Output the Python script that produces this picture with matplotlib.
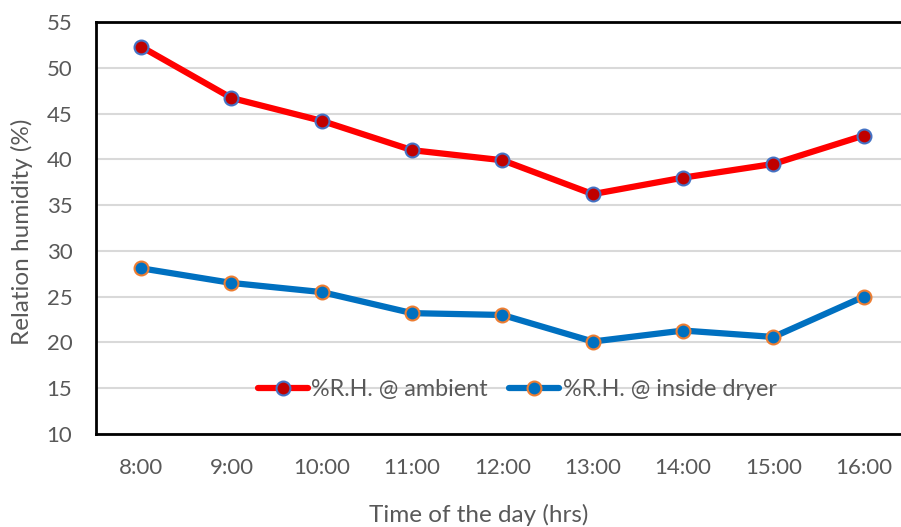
import matplotlib
matplotlib.use("Agg")
import matplotlib.pyplot as plt

hours = ["8:00", "9:00", "10:00", "11:00", "12:00", "13:00", "14:00", "15:00", "16:00"]
rh_ambient = [52.3, 46.7, 44.2, 41.0, 39.9, 36.2, 38.0, 39.5, 42.6]
rh_dryer = [28.1, 26.5, 25.5, 23.2, 23.0, 20.1, 21.3, 20.6, 25.0]

plt.rcParams['font.family'] = ['Lato', 'DejaVu Sans']
txt = '#595959'

fig = plt.figure(figsize=(9.01, 5.27), dpi=100)
# plot area runs slightly past the right edge, as in the original
ax = fig.add_axes([96 / 901, (527 - 434) / 527, 813 / 901, (434 - 22) / 527])

x = range(len(hours))
ax.plot(x, rh_ambient, color='#FF0000', lw=4.5, marker='o', ms=10,
        mfc='#C00000', mec='#4472C4', mew=1.5, label='%R.H. @ ambient',
        solid_capstyle='round', zorder=3)
ax.plot(x, rh_dryer, color='#0070C0', lw=4.5, marker='o', ms=10,
        mfc='#0070C0', mec='#ED7D31', mew=1.5, label='%R.H. @ inside dryer',
        solid_capstyle='round', zorder=3)

ax.set_xlim(-0.5, len(hours) - 0.5)
ax.set_ylim(10, 55)
ax.set_yticks(range(10, 56, 5))
ax.set_xticks(list(x))
ax.set_xticklabels(hours)
ax.grid(axis='y', color='#D9D9D9', lw=1.5, zorder=0)
ax.set_axisbelow(True)

for s in ['left', 'bottom', 'top']:
    ax.spines[s].set_color('black')
    ax.spines[s].set_linewidth(2)
ax.spines['right'].set_visible(False)

ax.tick_params(length=0, labelsize=16, labelcolor=txt)
ax.tick_params(axis='x', pad=17)
ax.tick_params(axis='y', pad=17)

ax.set_xlabel('Time of the day (hrs)', fontsize=17.5, color=txt)
ax.set_ylabel('Relation humidity (%)', fontsize=17.5, color=txt)
ax.xaxis.set_label_coords((479 - 96) / 813, -(515 - 434) / 412)
ax.yaxis.set_label_coords(-(96 - 22) / 813, 0.49)
ax.xaxis.label.set_va('center')
ax.yaxis.label.set_va('center')

leg = ax.legend(loc='center', bbox_to_anchor=(0.518, 0.108), ncol=2, frameon=False,
                fontsize=16.8, handlelength=2.15, handletextpad=0.15, columnspacing=0.9)
for t in leg.get_texts():
    t.set_color(txt)

fig.savefig('out.png', dpi=100)
